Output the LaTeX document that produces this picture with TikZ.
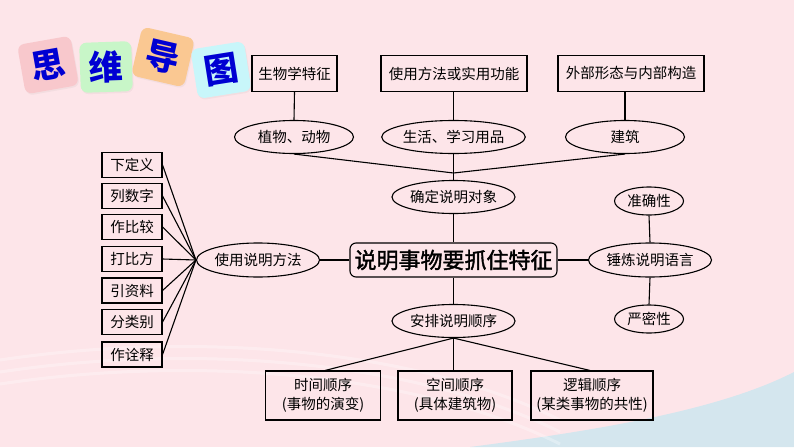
\documentclass[tikz,border=0pt]{standalone}
\usepackage{fontspec}
\setmainfont{Noto Sans CJK SC}
\newfontfamily\mainfake{Noto Sans CJK SC}[FakeBold=1.8]
\usetikzlibrary{shapes.geometric,shadows}
\definecolor{bgpink}{RGB}{253,229,233}
\definecolor{bgblue}{RGB}{212,230,238}
\definecolor{tpink}{RGB}{248,200,204}
\definecolor{tgreen}{RGB}{200,246,200}
\definecolor{torange}{RGB}{250,200,146}
\definecolor{tcyan}{RGB}{200,246,250}
\definecolor{tblue}{RGB}{0,0,210}
\tikzset{
  lbl/.style={font=\fontsize{14.5}{19}\selectfont, inner sep=0pt, align=center},
  sqbox/.style={lbl, draw, line width=1.1pt, rectangle},
  ovl/.style={lbl, draw, line width=1.1pt, ellipse},
  tile/.style={rounded corners=7pt, minimum width=54pt, minimum height=50pt, inner sep=0pt,
     text=tblue, font=\fontsize{34}{34}\selectfont\bfseries,
     drop shadow={shadow xshift=1pt, shadow yshift=-1.5pt, opacity=0.08}},
  link/.style={line width=1.1pt}
}
\begin{document}
\begin{tikzpicture}[x=1pt,y=-1pt]
\fill[bgpink] (0,0) rectangle (794,447);
\useasboundingbox (0,0) rectangle (794,447);
% background wave
\fill[bgblue] (470,447) .. controls (600,430) and (720,410) .. (794,372) -- (794,447) -- cycle;
\foreach \o in {0,12,24}{
  \draw[white, opacity=0.3, line width=3pt] (0,360+\o) .. controls (200,330+\o) and (420,350+\o) .. (560,420+\o);
}
% title tiles
\node[tile, fill=tpink, rotate=10] (t1) at (48,65) {思};
\node[tile, fill=tgreen, rotate=2, minimum width=52pt] (t2) at (106,67) {维};
\node[tile, fill=torange, rotate=-13] (t3) at (163,57) {导};
\node[tile, fill=tcyan, rotate=9] (t4) at (221,70) {图};
% top row
\node[sqbox, minimum width=85pt, minimum height=36pt] (b1) at (294.5,73.5) {生物学特征};
\node[sqbox, minimum width=146pt, minimum height=36pt] (b2) at (454,73.5) {使用方法或实用功能};
\node[sqbox, minimum width=146pt, minimum height=36pt] (b3) at (631,73.5) {外部形态与内部构造};
\node[ovl, minimum width=119pt, minimum height=33pt] (e1) at (294,137) {植物、动物};
\node[ovl, minimum width=119pt, minimum height=33pt] (e2) at (453.5,137) {生活、学习用品};
\node[ovl, minimum width=119pt, minimum height=33pt] (e3) at (625,137) {建筑};
\coordinate (j1) at (453.5,173);
\node[ovl, minimum width=118pt, minimum height=33pt] (obj) at (453.5,197) {确定说明对象};
% center
\node[lbl, draw, line width=1.1pt, rounded corners=6pt, minimum width=207pt, minimum height=34pt,
      font=\fontsize{22}{22}\mainfake] (main) at (453.5,260) {说明事物要抓住特征};
\node[ovl, minimum width=119pt, minimum height=34pt] (lang) at (650,260) {锤炼说明语言};
\node[ovl, minimum width=69pt, minimum height=28pt] (acc) at (649,201) {准确性};
\node[ovl, minimum width=69pt, minimum height=28pt] (str) at (649,319) {严密性};
\node[ovl, minimum width=118pt, minimum height=33pt] (order) at (453.5,321) {安排说明顺序};
\node[ovl, minimum width=118pt, minimum height=34pt] (meth) at (258,260) {使用说明方法};
% left boxes
\foreach \n/\y/\t in {m1/165/下定义, m2/196/列数字, m3/227/作比较, m4/259/打比方, m5/290.5/引资料, m6/322/分类别, m7/354.5/作诠释}{
  \node[sqbox, minimum width=60pt, minimum height=25pt] (\n) at (132,\y) {\t};
  \draw[link] (\n.east) -- (meth.west);
}
% bottom boxes
\node[sqbox, minimum width=115pt, minimum height=49pt] (s1) at (323,395.5) {时间顺序\\(事物的演变)};
\node[sqbox, minimum width=114pt, minimum height=49pt] (s2) at (455,395.5) {空间顺序\\(具体建筑物)};
\node[sqbox, minimum width=122pt, minimum height=49pt] (s3) at (592,395.5) {逻辑顺序\\(某类事物的共性)};
% connectors
\draw[link] (b1.south) -- (e1.north);
\draw[link] (b2.south -| e2.north) -- (e2.north);
\draw[link] (b3.south -| e3.north) -- (e3.north);
\draw[link] (e1.south) -- (j1);
\draw[link] (e3.south) -- (j1);
\draw[link] (e2.south) -- (obj.north);
\draw[link] (obj.south) -- (main.north);
\draw[link] (main.south) -- (order.north);
\draw[link] (main.west) -- (meth.east);
\draw[link] (main.east) -- (lang.west);
\draw[link] (lang.north) -- (acc.south);
\draw[link] (lang.south) -- (str.north);
\draw[link] (order.south) -- ([xshift=2pt]s1.north);
\draw[link] (order.south) -- (order.south |- s2.north);
\draw[link] (order.south) -- ([xshift=-2pt]s3.north);
\end{tikzpicture}
\end{document}
